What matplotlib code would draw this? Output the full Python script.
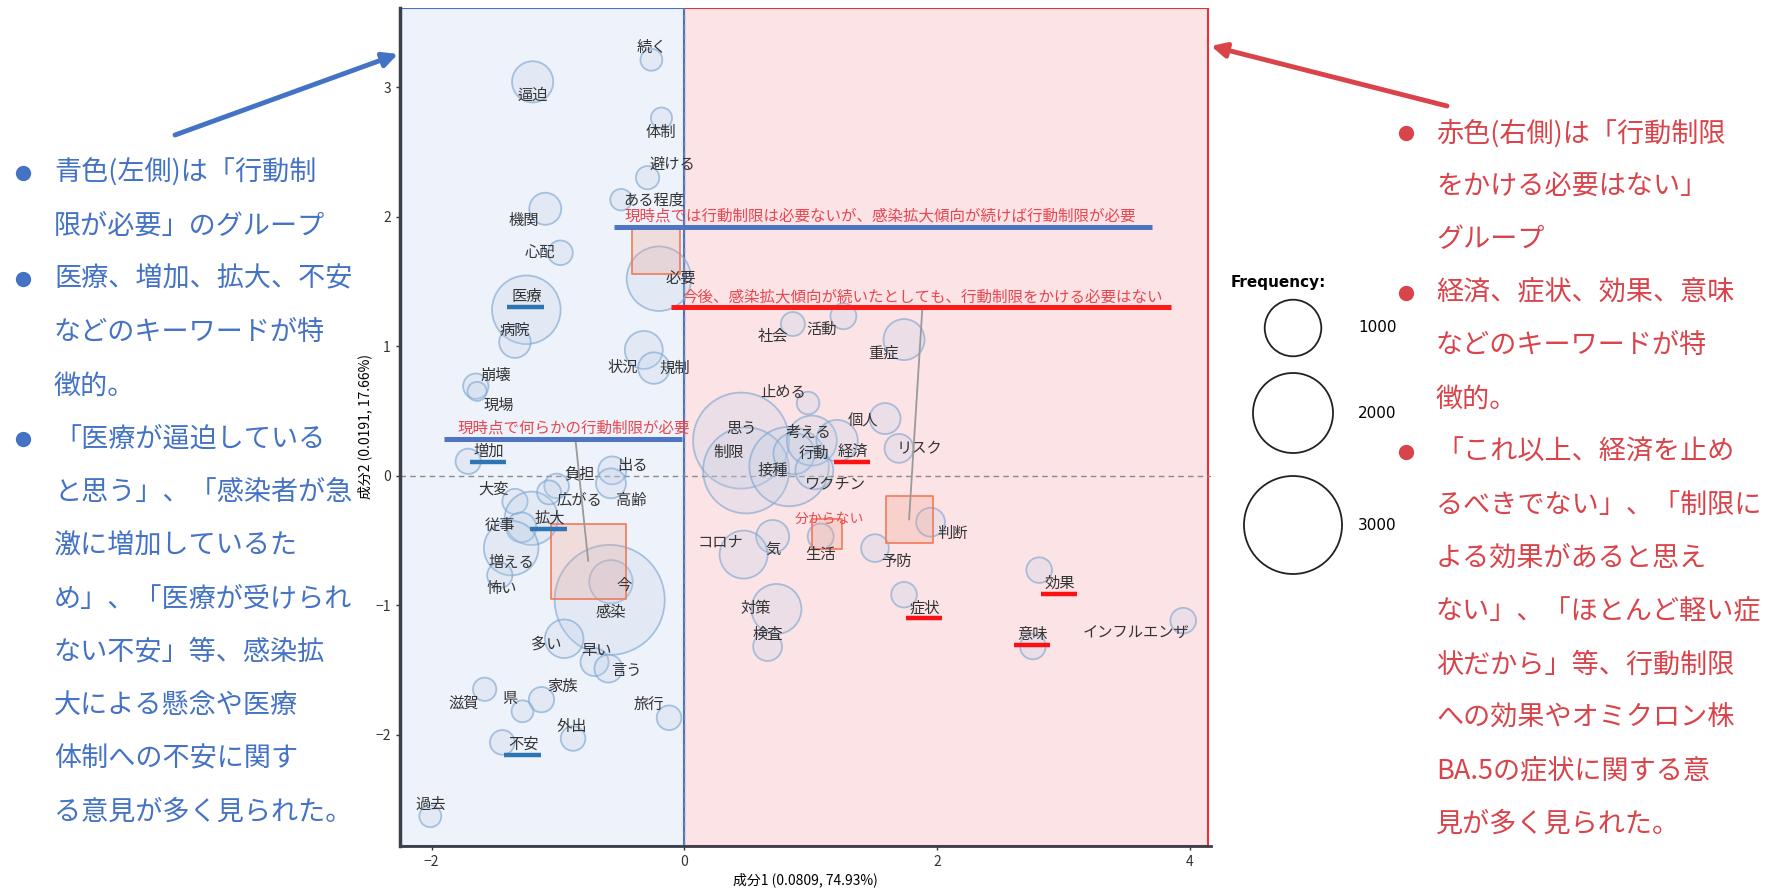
import matplotlib
matplotlib.use("Agg")
import matplotlib.pyplot as plt
from matplotlib.patches import Rectangle
from matplotlib.lines import Line2D
from matplotlib.text import Text
from matplotlib.transforms import IdentityTransform

plt.rcParams['font.family'] = ['Noto Sans CJK JP', 'DejaVu Sans']

# ---- data: words (correspondence analysis, 成分1 / 成分2) ----
words = ['続く', '逼迫', '体制', '避ける', 'ある程度', '機関', '心配', '必要', '医療', '病院',
         '状況', '規制', '崩壊', '現場', '増加', '負担', '出る', '高齢', '大変', '拡大',
         '広がる', '従事', '増える', '怖い', '今', '感染', '多い', '早い', '言う', '滋賀',
         '県', '家族', '旅行', '外出', '不安', '過去', '社会', '活動', '重症', '止める',
         '個人', '思う', '制限', '接種', '行動', '考える', '経済', 'ワクチン', 'リスク', '判断',
         '予防', '生活', '気', 'コロナ', '対策', '検査', '効果', '症状', '意味', 'インフルエンザ']
word_x = [-0.26, -1.20, -0.18, -0.29, -0.50, -1.10, -0.98, -0.20, -1.25, -1.34,
          -0.32, -0.24, -1.65, -1.64, -1.71, -1.01, -0.57, -0.58, -1.34, -1.21,
          -1.07, -1.29, -1.37, -1.46, -0.58, -0.59, -0.95, -0.71, -0.60, -1.58,
          -1.28, -1.13, -0.12, -0.88, -1.44, -2.01, 0.86, 1.26, 1.74, 0.98,
          1.59, 0.45, 0.49, 0.83, 0.87, 1.01, 1.21, 1.03, 1.70, 1.95,
          1.51, 1.08, 0.70, 0.47, 0.73, 0.66, 2.81, 1.74, 2.76, 3.95]
word_y = [3.21, 3.04, 2.76, 2.30, 2.13, 2.06, 1.72, 1.52, 1.28, 1.03,
          0.97, 0.83, 0.69, 0.65, 0.11, -0.08, 0.04, -0.06, -0.20, -0.33,
          -0.13, -0.40, -0.56, -0.77, -0.82, -0.96, -1.26, -1.44, -1.49, -1.65,
          -1.82, -1.73, -1.87, -2.03, -2.06, -2.63, 1.17, 1.23, 1.05, 0.56,
          0.44, 0.27, 0.04, 0.07, 0.17, 0.27, 0.27, 0.04, 0.21, -0.36,
          -0.56, -0.47, -0.47, -0.61, -1.03, -1.32, -0.73, -0.92, -1.32, -1.12]
word_freq = [150, 530, 140, 170, 145, 320, 190, 1300, 1470, 310,
             450, 310, 200, 115, 200, 190, 245, 280, 200, 890,
             180, 280, 930, 200, 590, 3780, 465, 245, 245, 170,
             150, 200, 190, 190, 190, 150, 180, 210, 525, 160,
             300, 2880, 2310, 1970, 535, 780, 535, 450, 260, 260,
             240, 210, 340, 720, 780, 260, 205, 205, 205, 205]

blue_keywords = ['医療', '増加', '拡大', '不安']
red_keywords = ['経済', '症状', '効果', '意味']

# ---- data: response categories ----
cat_names = ['現時点では行動制限は必要ないが、感染拡大傾向が続けば行動制限が必要',
             '今後、感染拡大傾向が続いたとしても、行動制限をかける必要はない',
             '現時点で何らかの行動制限が必要',
             '分からない']
cat_x = [-0.22, 1.78, -0.76, 1.13]
cat_y = [1.74, -0.34, -0.66, -0.45]
cat_freq = [230, 220, 560, 90]
cat_line_color = ['#4f74c4', '#ff1a1a', '#4f74c4', None]

legend_freq = [1000, 2000, 3000]

xlabel_text = '成分1 (0.0809, 74.93%)'
ylabel_text = '成分2 (0.0191, 17.66%)'

left_lines = ['青色(左側)は「行動制', '限が必要」のグループ', '医療、増加、拡大、不安',
              'などのキーワードが特', '徴的。', '「医療が逼迫している',
              'と思う」、「感染者が急', '激に増加しているた', 'め」、「医療が受けられ',
              'ない不安」等、感染拡', '大による懸念や医療', '体制への不安に関す',
              'る意見が多く見られた。']
left_bullets = [0, 2, 5]
right_lines = ['赤色(右側)は「行動制限', 'をかける必要はない」', 'グループ',
               '経済、症状、効果、意味', 'などのキーワードが特', '徴的。',
               '「これ以上、経済を止め', 'るべきでない」、「制限に', 'よる効果があると思え',
               'ない」、「ほとんど軽い症', '状だから」等、行動制限', 'への効果やオミクロン株',
               'BA.5の症状に関する意', '見が多く見られた。']
right_bullets = [0, 3, 6]

# ---- layout ----
W, H = 1769, 893
SIZE_PER_FREQ = 1.66          # points^2 per count
CAT_SIZE_PER_FREQ = 5.2
# label offsets in pixels (dx right, dy down) from bubble centre
label_off = {
    '続く': (0, -12), '逼迫': (0, 14), '体制': (-1, 14), '避ける': (25, -13), 'ある程度': (33, 0),
    '機関': (-21, 12), '心配': (-21, 0), '必要': (22, 1), '医療': (0, -13), '病院': (0, -12),
    '状況': (-21, 17), '規制': (21, 0), '崩壊': (20, -11), '現場': (22, 14), '増加': (21, -10),
    '負担': (23, -12), '出る': (20, -5), '高齢': (20, 17), '大変': (-21, -12), '拡大': (18, 0),
    '広がる': (30, 8), '従事': (-21, -2), '増える': (0, 14), '怖い': (2, 13), '今': (13, 3),
    '感染': (1, 13), '多い': (-18, 5), '早い': (2, -12), '言う': (18, 2), '滋賀': (-21, 14),
    '県': (-13, -13), '家族': (21, -13), '旅行': (-20, -13), '外出': (-1, -12), '不安': (21, 2),
    '過去': (0, -12), '社会': (-20, 12), '活動': (-22, 13), '重症': (-21, 13), '止める': (-25, -11),
    '個人': (-22, 2), '思う': (0, -12), '制限': (-18, -18), '接種': (-16, 4), '行動': (20, 0),
    '考える': (-3, -8), '経済': (16, 11), 'ワクチン': (21, 14), 'リスク': (21, 0), '判断': (22, 11),
    '予防': (21, 13), '生活': (0, 18), '気': (0, 13), 'コロナ': (-23, -13), '対策': (-21, 0),
    '検査': (0, -12), '効果': (21, 13), '症状': (21, 13), '意味': (0, -12), 'インフルエンザ': (-47, 13),
}
cat_off = [(-32, -34, 'left'), (14, -223, 'center'), (-14, -133, 'center'), (2, -15, 'center')]
cat_connector = [False, True, True, False]
cat_line_pad = [(-10, 16), (-12, 8), (-14, -8), None]

fig = plt.figure(figsize=(W / 100, H / 100), dpi=100)
ax = fig.add_axes([400 / W, 1 - 846 / H, 811 / W, 838 / H])
xmin, xmax, ymin, ymax = -2.25, 4.17, -2.86, 3.61
ax.set_xlim(xmin, xmax)
ax.set_ylim(ymin, ymax)

# group backgrounds
ax.add_patch(Rectangle((0, ymin), 4.15, ymax - ymin, fc='#fbe3e6', ec='#e8303a', lw=1.5, zorder=0))
ax.add_patch(Rectangle((xmin, ymin), -xmin, ymax - ymin, fc='#eef2fa', ec='#4472c4', lw=1.5, zorder=0.1))
ax.axhline(0, color='#8a8a8a', lw=1, ls=(0, (4, 3)), zorder=0.5)
ax.axvline(0, color='#6f86b8', lw=1, ls=(0, (4, 3)), zorder=0.5)

ax.scatter(word_x, word_y, s=[f * SIZE_PER_FREQ for f in word_freq],
           facecolor=(0.74, 0.81, 0.90, 0.24), edgecolor=(0.50, 0.66, 0.82, 0.65),
           linewidth=1.3, zorder=2)
ax.scatter(cat_x, cat_y, s=[f * CAT_SIZE_PER_FREQ for f in cat_freq], marker='s',
           facecolor=(0.96, 0.62, 0.52, 0.26), edgecolor='#f07a5a', linewidth=1.2, zorder=2.5)

word_texts = {}
for w, x, y in zip(words, word_x, word_y):
    dx, dy = label_off[w]
    word_texts[w] = ax.annotate(w, (x, y), xytext=(dx, -dy), textcoords='offset pixels',
                                ha='center', va='center', fontsize=11, color='#333333', zorder=4)

cat_texts = []
for i, (name, x, y) in enumerate(zip(cat_names, cat_x, cat_y)):
    dx, dy, ha = cat_off[i]
    props = None
    if cat_connector[i]:
        props = dict(arrowstyle='-', color='#9a9a9a', lw=1.3, shrinkA=0, shrinkB=0)
    t = ax.annotate(name, (x, y), xytext=(dx, -dy), textcoords='offset pixels', ha=ha, va='center',
                    fontsize=10 if i == 3 else 11.2, color='#e8474f', zorder=4, arrowprops=props)
    cat_texts.append(t)

ax.set_xticks([-2, 0, 2, 4])
ax.set_yticks([-2, -1, 0, 1, 2, 3])
ax.tick_params(labelsize=10, length=3, width=1, colors='#333333')
for s in ['top', 'right']:
    ax.spines[s].set_visible(False)
ax.spines['left'].set_color('#3a3f4a')
ax.spines['left'].set_linewidth(2.5)
ax.spines['bottom'].set_color('#3a3f4a')
ax.spines['bottom'].set_linewidth(2)
ax.set_xlabel(xlabel_text, fontsize=10)
ax.set_ylabel(ylabel_text, fontsize=10)
ax.xaxis.set_label_coords(0.5, -(880 - 846) / 838)
ax.xaxis.label.set_va('center')
ax.yaxis.set_label_coords(-(400 - 365) / 811, 0.5)
ax.yaxis.label.set_va('center')

# overlay in pixel coordinates for side notes, arrows and size legend
ov = fig.add_axes([0, 0, 1, 1])
ov.set_xlim(0, W)
ov.set_ylim(H, 0)
ov.axis('off')
ov.patch.set_visible(False)

blue = '#4472c4'
red = '#d9434a'
for i, line in enumerate(left_lines):
    y = 172.6 + i * 53.3
    ov.text(54, y, line, fontsize=19.5, color=blue, va='center', ha='left')
    if i in left_bullets:
        ov.plot(23, y, 'o', color=blue, markersize=10)
for i, line in enumerate(right_lines):
    y = 133.1 + i * 53.2
    ov.text(1436, y, line, fontsize=19.5, color=red, va='center', ha='left')
    if i in right_bullets:
        ov.plot(1406, y, 'o', color=red, markersize=10)

ov.annotate('', xy=(398, 54), xytext=(175, 135),
            arrowprops=dict(arrowstyle='-|>', color=blue, lw=3.5, mutation_scale=22, shrinkA=0, shrinkB=0))
ov.annotate('', xy=(1211, 46), xytext=(1447, 106),
            arrowprops=dict(arrowstyle='-|>', color=red, lw=3.5, mutation_scale=22, shrinkA=0, shrinkB=0))

ov.text(1231, 282, 'Frequency:', fontsize=11, fontweight='bold', va='center', family='DejaVu Sans')
leg_y = [328, 413, 525]
ov.scatter([1293] * 3, leg_y, s=[f * SIZE_PER_FREQ for f in legend_freq],
           facecolor='none', edgecolor='#222222', linewidth=1.3)
for f, y in zip(legend_freq, leg_y):
    ov.text(1358, y, str(f), fontsize=11, va='center', family='DejaVu Sans')

# underlines measured from rendered text (text box only, not the connector)
fig.canvas.draw()
renderer = fig.canvas.get_renderer()
for w in blue_keywords + red_keywords:
    bb = Text.get_window_extent(word_texts[w], renderer)
    c = '#2e75b6' if w in blue_keywords else '#ff1010'
    fig.add_artist(Line2D([bb.x0 - 4, bb.x1 + 2], [bb.y0 - 2, bb.y0 - 2], color=c, lw=3.2,
                          transform=IdentityTransform(), solid_capstyle='butt'))
for t, c, pad in zip(cat_texts, cat_line_color, cat_line_pad):
    if c is None:
        continue
    bb = Text.get_window_extent(t, renderer)
    fig.add_artist(Line2D([bb.x0 + pad[0], bb.x1 + pad[1]], [bb.y0 - 2, bb.y0 - 2], color=c, lw=3.6,
                          transform=IdentityTransform(), solid_capstyle='butt'))

fig.savefig('out.png', dpi=100)
